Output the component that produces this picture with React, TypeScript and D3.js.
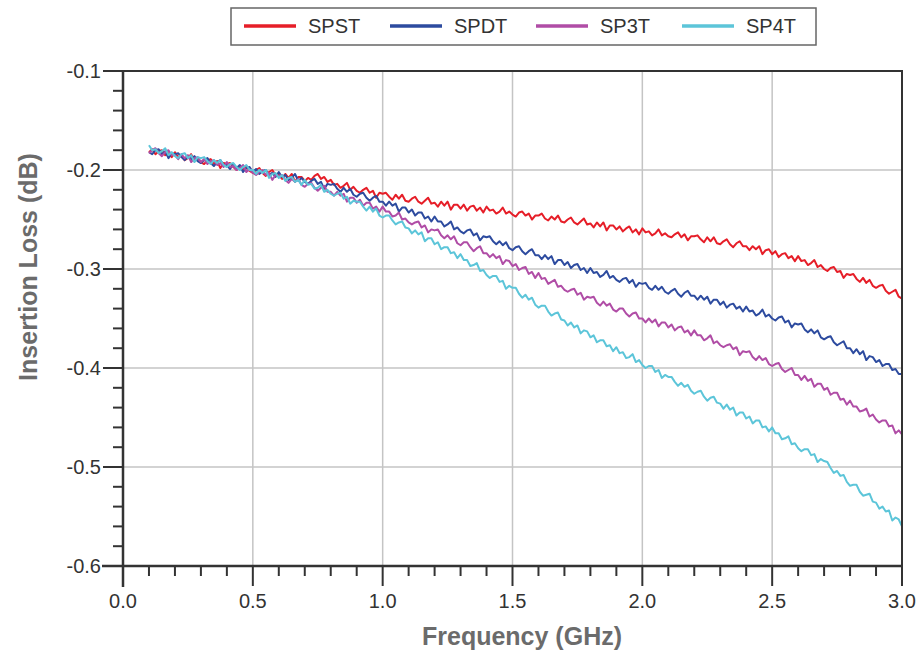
import React from 'react';
import * as d3 from 'd3';

// frequency sweep (GHz): 0.1 .. 3.0 every 0.0125 (233 points)
const FREQ_START = 0.1;
const FREQ_STEP = 0.0125;

// insertion loss in milli-dB (one row per 0.1 GHz)
const SPST_MDB = [
  182, 179, 184, 181, 180, 185, 183, 187,
  182, 187, 185, 190, 188, 184, 191, 188,
  192, 194, 190, 189, 194, 191, 198, 193,
  194, 193, 197, 200, 196, 199, 196, 201,
  203, 200, 198, 203, 206, 202, 200, 205,
  205, 209, 204, 208, 204, 212, 207, 207,
  211, 208, 210, 206, 204, 209, 207, 212,
  210, 215, 214, 218, 216, 213, 220, 217,
  221, 223, 220, 218, 223, 221, 228, 223,
  224, 223, 227, 230, 225, 229, 225, 231,
  232, 229, 227, 232, 234, 231, 228, 234,
  233, 237, 232, 236, 232, 240, 235, 235,
  239, 235, 241, 237, 236, 241, 238, 243,
  237, 241, 240, 244, 242, 238, 244, 242,
  245, 247, 243, 242, 246, 244, 250, 246,
  246, 244, 249, 251, 247, 250, 246, 252,
  253, 250, 248, 253, 255, 252, 249, 255,
  254, 258, 253, 257, 253, 261, 256, 256,
  260, 257, 262, 259, 257, 263, 260, 265,
  259, 263, 262, 266, 264, 260, 266, 264,
  267, 268, 265, 263, 268, 265, 271, 267,
  267, 266, 270, 273, 268, 272, 268, 274,
  275, 272, 270, 275, 278, 274, 272, 277,
  277, 281, 277, 280, 277, 285, 281, 280,
  285, 282, 288, 285, 284, 289, 287, 292,
  287, 292, 291, 296, 294, 291, 298, 296,
  300, 302, 299, 298, 303, 302, 309, 305,
  306, 305, 310, 313, 309, 314, 311, 317,
  319, 317, 316, 322, 325, 323, 321, 328,
  330,
];

const SPDT_MDB = [
  182, 184, 180, 179, 184, 181, 188, 183,
  184, 183, 187, 190, 186, 189, 186, 191,
  193, 190, 188, 193, 196, 192, 190, 195,
  195, 199, 194, 198, 195, 202, 198, 197,
  202, 199, 204, 201, 200, 205, 203, 207,
  202, 207, 205, 210, 208, 204, 211, 208,
  212, 214, 211, 209, 214, 212, 219, 214,
  215, 214, 219, 222, 218, 222, 219, 225,
  227, 224, 223, 228, 231, 228, 226, 232,
  232, 236, 232, 236, 234, 242, 238, 238,
  243, 240, 246, 243, 243, 249, 247, 252,
  247, 252, 252, 257, 255, 252, 260, 258,
  262, 264, 261, 260, 266, 264, 271, 267,
  268, 267, 272, 275, 272, 276, 273, 279,
  281, 278, 277, 282, 285, 282, 280, 286,
  286, 290, 286, 290, 287, 295, 291, 291,
  296, 293, 299, 296, 295, 301, 299, 304,
  299, 304, 303, 308, 306, 302, 309, 307,
  311, 313, 310, 309, 314, 311, 318, 314,
  315, 314, 319, 321, 317, 321, 318, 323,
  325, 322, 320, 325, 328, 324, 322, 327,
  327, 331, 327, 331, 328, 335, 331, 331,
  336, 333, 339, 336, 335, 340, 338, 343,
  338, 343, 342, 347, 345, 341, 348, 346,
  350, 352, 349, 348, 354, 352, 359, 355,
  356, 355, 361, 364, 361, 365, 362, 369,
  371, 369, 368, 374, 377, 375, 373, 380,
  380, 385, 381, 386, 383, 392, 388, 389,
  394, 392, 398, 396, 396, 402, 401, 406,
  406,
];

const SP3T_MDB = [
  183, 180, 178, 183, 186, 182, 180, 185,
  185, 189, 184, 188, 185, 192, 188, 187,
  192, 189, 194, 191, 190, 195, 193, 197,
  192, 197, 196, 200, 198, 195, 202, 199,
  203, 205, 202, 200, 205, 203, 210, 205,
  206, 205, 210, 213, 209, 212, 209, 215,
  217, 214, 213, 218, 221, 218, 216, 222,
  222, 226, 222, 226, 224, 232, 228, 228,
  233, 230, 236, 233, 233, 239, 237, 242,
  237, 242, 242, 247, 246, 243, 250, 249,
  253, 255, 253, 252, 258, 256, 263, 260,
  261, 260, 266, 269, 266, 270, 267, 274,
  276, 273, 273, 278, 282, 279, 277, 284,
  284, 288, 285, 289, 287, 295, 291, 292,
  297, 295, 301, 299, 298, 305, 303, 309,
  304, 310, 309, 315, 313, 311, 318, 317,
  321, 323, 321, 320, 326, 324, 331, 328,
  329, 328, 334, 337, 333, 337, 335, 341,
  343, 340, 340, 345, 348, 345, 344, 350,
  350, 354, 350, 354, 351, 358, 354, 354,
  359, 356, 362, 359, 358, 364, 362, 367,
  362, 367, 367, 372, 370, 367, 375, 373,
  377, 379, 377, 376, 381, 379, 387, 383,
  384, 383, 389, 392, 388, 392, 390, 396,
  398, 396, 395, 401, 404, 402, 400, 407,
  407, 412, 408, 413, 411, 419, 416, 416,
  422, 420, 427, 425, 425, 432, 431, 437,
  433, 439, 439, 444, 443, 441, 449, 447,
  452, 455, 453, 453, 459, 458, 466, 463,
  467,
];

const SP4T_MDB = [
  175, 180, 179, 183, 181, 178, 185, 182,
  186, 188, 184, 183, 188, 185, 192, 187,
  188, 187, 191, 194, 190, 193, 190, 195,
  197, 194, 193, 197, 200, 197, 195, 200,
  200, 204, 200, 203, 200, 208, 204, 203,
  208, 205, 211, 208, 207, 212, 210, 215,
  210, 215, 214, 219, 218, 215, 222, 220,
  224, 226, 224, 223, 229, 227, 234, 231,
  232, 232, 237, 241, 237, 242, 239, 246,
  248, 246, 246, 251, 255, 253, 252, 258,
  259, 264, 261, 265, 263, 272, 269, 269,
  275, 273, 280, 278, 278, 284, 283, 289,
  285, 291, 291, 297, 296, 294, 302, 301,
  306, 309, 307, 307, 313, 312, 320, 317,
  319, 319, 325, 329, 326, 331, 329, 336,
  339, 337, 337, 343, 347, 345, 344, 351,
  352, 357, 354, 359, 357, 365, 362, 363,
  369, 367, 374, 372, 372, 378, 377, 383,
  379, 385, 384, 390, 389, 386, 394, 392,
  397, 400, 398, 398, 404, 402, 410, 407,
  409, 409, 414, 418, 415, 419, 417, 423,
  426, 424, 423, 429, 433, 430, 429, 435,
  436, 441, 437, 442, 440, 448, 445, 445,
  451, 449, 456, 453, 453, 460, 459, 464,
  460, 466, 466, 472, 471, 469, 477, 476,
  481, 484, 482, 482, 488, 487, 495, 492,
  494, 495, 501, 506, 504, 509, 508, 515,
  519, 518, 518, 525, 529, 528, 527, 535,
  536, 542, 540, 545, 544, 554, 551, 553,
  560,
];

const SERIES_NAMES = ['SPST', 'SPDT', 'SP3T', 'SP4T'];
const SERIES_VALUES = [SPST_MDB, SPDT_MDB, SP3T_MDB, SP4T_MDB];
const COLORS = ['#e61e28', '#2d4b9f', '#b04da6', '#5cc5d9'];

const X_TICKS = [0, 0.5, 1.0, 1.5, 2.0, 2.5, 3.0];
const Y_TICKS = [-0.1, -0.2, -0.3, -0.4, -0.5, -0.6];

const W = 924;
const H = 656;
const margin = { left: 123, right: 22, top: 71, bottom: 90 };

const App = () => {
  const x = d3.scaleLinear().domain([0, 3]).range([margin.left, W - margin.right]);
  const y = d3.scaleLinear().domain([-0.6, -0.1]).range([H - margin.bottom, margin.top]);

  const line = d3
    .line<number>()
    .x((d, i) => x(FREQ_START + i * FREQ_STEP))
    .y((d) => y(-d / 1000));

  const xMinor = d3.range(0, 31).map((i) => i / 10).filter((v) => Math.round(v * 10) % 5 !== 0);
  const yMinor = d3.range(-60, -9, 2).map((v) => v / 100).filter((v) => Math.round(v * 100) % 10 !== 0);

  const x0 = x(0), x1 = x(3), yb = y(-0.6), yt = y(-0.1);
  const font = "'Liberation Sans', Arial, sans-serif";
  const fmt = (v: number) => v.toFixed(1); // plain hyphen minus like the original

  return (
    <svg width={W} height={H} style={{ position: 'absolute', left: 0, top: 0, background: '#fff' }}>
      {/* grid */}
      <g stroke="#c4c4c4" strokeWidth={1.5}>
        {X_TICKS.slice(1, -1).map((t) => (
          <line key={'gx' + t} x1={x(t)} x2={x(t)} y1={yt} y2={yb} />
        ))}
        {Y_TICKS.slice(1, -1).map((t) => (
          <line key={'gy' + t} x1={x0} x2={x1} y1={y(t)} y2={y(t)} />
        ))}
      </g>

      {/* series */}
      <g fill="none" strokeWidth={2} strokeLinejoin="round">
        {SERIES_VALUES.map((vals, i) => (
          <path key={SERIES_NAMES[i]} d={line(vals) || ''} stroke={COLORS[i]} />
        ))}
      </g>

      {/* frame */}
      <g stroke="#333" fill="none">
        <line x1={x0} x2={x1 + 1} y1={yt} y2={yt} strokeWidth={2} />
        <line x1={x1} x2={x1} y1={yt} y2={yb} strokeWidth={2} />
        <line x1={x0} x2={x0} y1={yt - 1} y2={yb + 21} strokeWidth={2.5} />
        <line x1={x0 - 21} x2={x1 + 1} y1={yb} y2={yb} strokeWidth={2.5} />
      </g>

      {/* ticks */}
      <g stroke="#333" strokeWidth={2}>
        {Y_TICKS.map((t) => (
          <line key={'yt' + t} x1={x0 - 20} x2={x0} y1={y(t)} y2={y(t)} />
        ))}
        {yMinor.map((t) => (
          <line key={'ym' + t} x1={x0 - 10} x2={x0} y1={y(t)} y2={y(t)} />
        ))}
        {X_TICKS.map((t) => (
          <line key={'xt' + t} x1={x(t)} x2={x(t)} y1={yb} y2={yb + 20} />
        ))}
        {xMinor.map((t) => (
          <line key={'xm' + t} x1={x(t)} x2={x(t)} y1={yb} y2={yb + 10} />
        ))}
      </g>

      {/* tick labels */}
      <g fontFamily={font} fontSize={20} fill="#333">
        {Y_TICKS.map((t) => (
          <text key={'yl' + t} x={x0 - 22} y={y(t)} dy="0.35em" textAnchor="end">
            {fmt(t)}
          </text>
        ))}
        {X_TICKS.map((t) => (
          <text key={'xl' + t} x={x(t)} y={yb + 42} textAnchor="middle">
            {fmt(t)}
          </text>
        ))}
      </g>

      {/* axis titles */}
      <text x={522} y={645} textAnchor="middle" fontFamily={font} fontSize={25} fontWeight="bold" fill="#6b6b6b">
        Frequency (GHz)
      </text>
      <text
        transform="translate(37, 267) rotate(-90)"
        textAnchor="middle"
        fontFamily={font}
        fontSize={25}
        fontWeight="bold"
        fill="#6b6b6b"
      >
        Insertion Loss (dB)
      </text>

      {/* legend */}
      <g fontFamily={font} fontSize={20} fill="#333">
        <rect x={231} y={8} width={585} height={37} fill="#fff" stroke="#666" strokeWidth={1.5} />
        {SERIES_NAMES.map((name, i) => {
          const lx = 244 + i * 146;
          return (
            <g key={'lg' + name}>
              <line x1={lx} x2={lx + 52} y1={26} y2={26} stroke={COLORS[i]} strokeWidth={3.5} />
              <text x={lx + 64} y={26} dy="0.36em">
                {name}
              </text>
            </g>
          );
        })}
      </g>
    </svg>
  );
};

export default App;
